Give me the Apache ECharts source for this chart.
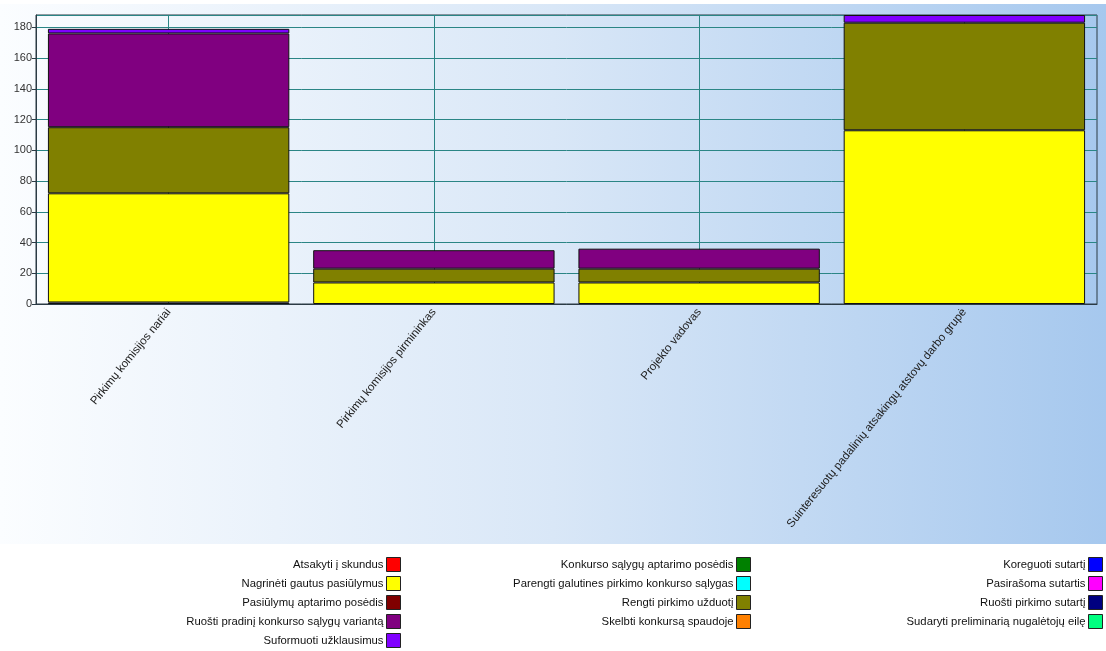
<!DOCTYPE html>
<html>
<head>
<meta charset="utf-8">
<script src="https://cdn.jsdelivr.net/npm/echarts@6/dist/echarts.min.js"></script>
<style>
  html, body { margin: 0; padding: 0; background: #fff; }
  #chart { width: 1106px; height: 651px; }
</style>
</head>
<body>
<div id="chart"></div>
<script>
// categories (x axis)
var categories = ['Pirkimų komisijos nariai', 'Pirkimų komisijos pirmininkas', 'Projekto vadovas',
  'Suinteresuotų padalinių atsakingų atstovų darbo grupė'];

// series names, stacked in this order (bottom -> top), legend in the same order row by row
var seriesNames = ['Atsakyti į skundus', 'Konkurso sąlygų aptarimo posėdis', 'Koreguoti sutartį',
  'Nagrinėti gautus pasiūlymus', 'Parengti galutines pirkimo konkurso sąlygas', 'Pasirašoma sutartis',
  'Pasiūlymų aptarimo posėdis', 'Rengti pirkimo užduotį', 'Ruošti pirkimo sutartį',
  'Ruošti pradinį konkurso sąlygų variantą', 'Skelbti konkursą spaudoje',
  'Sudaryti preliminarią nugalėtojų eilę', 'Suformuoti užklausimus'];

var seriesColors = ['#ff0000', '#008000', '#0000ff', '#ffff00', '#00ffff', '#ff00ff',
  '#800000', '#808000', '#000080', '#800080', '#ff8000', '#00ff80', '#8000ff'];

// values per category
var atsakyti    = [0, 0, 0, 0];
var konkurso    = [1, 0, 0, 0];
var koreguoti   = [0, 0, 0, 0];
var nagrineti   = [71, 14, 14, 113];
var parengti    = [0, 0, 0, 0];
var pasirasoma  = [0, 0, 0, 0];
var pasiulymu   = [0, 0, 0, 0];
var rengti      = [43, 9, 9, 70];
var ruostiSut   = [0, 0, 0, 0];
var ruostiPrad  = [61, 12, 13, 0];
var skelbti     = [0, 0, 0, 0];
var sudaryti    = [0, 0, 0, 0];
var suformuoti  = [3, 0, 0, 5];

var seriesValues = [atsakyti, konkurso, koreguoti, nagrineti, parengti, pasirasoma,
  pasiulymu, rengti, ruostiSut, ruostiPrad, skelbti, sudaryti, suformuoti];

var yTicks = [0, 20, 40, 60, 80, 100, 120, 140, 160, 180];
var yMax = 188;

var font = '"Liberation Sans", Arial, sans-serif';

var series = seriesNames.map(function (name, i) {
  return {
    name: name,
    type: 'bar',
    stack: 'all',
    barCategoryGap: '9%',
    itemStyle: { color: seriesColors[i], borderColor: '#111', borderWidth: 1 },
    data: seriesValues[i].map(function (v) { return v === 0 ? null : v; })
  };
});

// one legend per item so the swatches line up on the right like the original
var colRight = [705, 355, 3];
var rowTop = [557, 576, 595, 614, 633];
var legends = seriesNames.map(function (name, i) {
  return {
    data: [name],
    right: colRight[i % 3],
    top: rowTop[Math.floor(i / 3)],
    padding: 0,
    align: 'right',
    itemWidth: 14,
    itemHeight: 14,
    icon: 'rect',
    selectedMode: false,
    itemStyle: { borderColor: '#222', borderWidth: 1 },
    textStyle: { fontFamily: font, fontSize: 11.3, color: '#111', padding: [0, -2, 0, 0] }
  };
});

var chart = echarts.init(document.getElementById('chart'));
chart.setOption({
  animation: false,
  backgroundColor: '#fff',
  graphic: {
    elements: [{
      type: 'rect',
      z: -100,
      silent: true,
      shape: { x: 0, y: 4, width: 1106, height: 540 },
      style: {
        fill: new echarts.graphic.LinearGradient(0, 0, 1, 0, [
          { offset: 0, color: '#fbfdff' },
          { offset: 0.5, color: '#d9e7f7' },
          { offset: 1, color: '#a6c8ee' }
        ])
      }
    }]
  },
  legend: legends,
  grid: {
    left: 36, right: 9, top: 15, bottom: 347,
    show: true, borderColor: '#2b3a44', borderWidth: 1, backgroundColor: 'transparent'
  },
  xAxis: {
    type: 'category',
    data: categories,
    axisLine: { lineStyle: { color: '#2b3a44', width: 1 } },
    axisTick: { alignWithLabel: true, length: 5, lineStyle: { color: '#2b3a44' } },
    splitLine: { show: true, alignWithLabel: true, lineStyle: { color: '#2a8585', width: 1 } },
    axisLabel: { rotate: 51, fontFamily: font, fontSize: 11.5, color: '#222', margin: 6, interval: 0 }
  },
  yAxis: {
    type: 'value',
    min: 0,
    max: yMax,
    interval: yTicks[1] - yTicks[0],
    axisLine: { show: true, lineStyle: { color: '#2b3a44' } },
    axisTick: { show: true, length: 4, lineStyle: { color: '#2b3a44' } },
    splitLine: { show: true, lineStyle: { color: '#2a8585', width: 1 } },
    axisLabel: { fontFamily: font, fontSize: 11, color: '#333', margin: 4, showMaxLabel: false }
  },
  series: series
});
</script>
</body>
</html>
